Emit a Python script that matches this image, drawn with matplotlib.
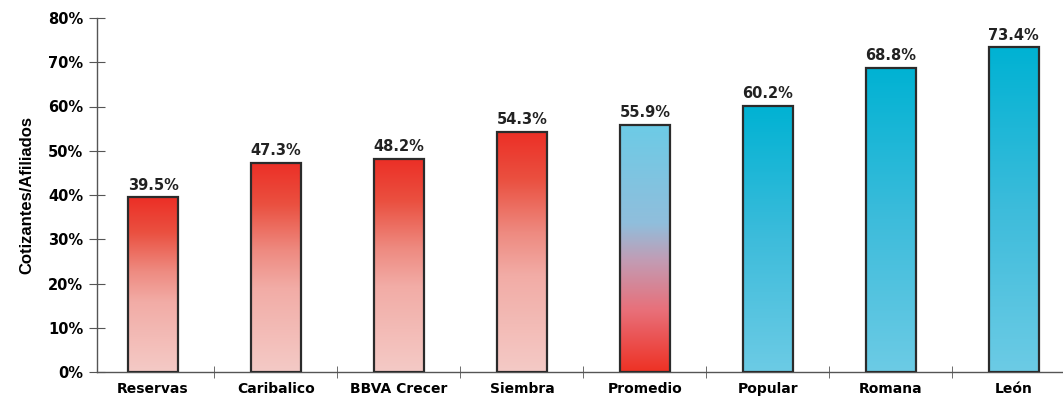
import numpy as np
import matplotlib.pyplot as plt
from matplotlib.colors import LinearSegmentedColormap

categories = ['Reservas', 'Caribalico', 'BBVA Crecer', 'Siembra', 'Promedio', 'Popular', 'Romana', 'León']
values = [39.5, 47.3, 48.2, 54.3, 55.9, 60.2, 68.8, 73.4]
groups = ['red', 'red', 'red', 'red', 'avg', 'blue', 'blue', 'blue']

# gradients, bottom -> top
cmaps = {
    'red': LinearSegmentedColormap.from_list('red', [(0, '#f4cac6'), (0.4, '#f2aca6'), (0.58, '#ee8a80'),
                                                     (0.8, '#ea5040'), (1, '#ec2f26')]),
    'avg': LinearSegmentedColormap.from_list('avg', [(0, '#ee3124'), (0.25, '#e8707a'), (0.45, '#c29cb4'),
                                                     (0.6, '#90bedc'), (1, '#6ccbe6')]),
    'blue': LinearSegmentedColormap.from_list('blue', ['#6ccbe5', '#3dbcdb', '#00b2d3']),
}

plt.rcParams['font.family'] = ['DejaVu Sans']

fig = plt.figure(figsize=(10.63, 4), dpi=100)
ax = fig.add_axes([0.0913, 0.07, 0.9087, 0.885])

x = np.arange(len(categories))
width = 0.41
bars = ax.bar(x, values, width=width, color='none', edgecolor='#2b2b2b', linewidth=1.6, zorder=3)

grad = np.linspace(0, 1, 256).reshape(-1, 1)
for bar, g in zip(bars, groups):
    x0, w, h = bar.get_x(), bar.get_width(), bar.get_height()
    im = ax.imshow(grad, cmap=cmaps[g], origin='lower', aspect='auto',
                   extent=[x0, x0 + w, 0, h], zorder=2)
    im.set_clip_path(bar)

for xi, v in zip(x, values):
    ax.text(xi, v + 1.0, f'{v:.1f}%', ha='center', va='bottom',
            fontsize=10.5, fontweight='bold', color='#222222')

ax.set_xlim(-0.455, 7.4)
ax.set_ylim(0, 80)
ax.set_yticks(np.arange(0, 81, 10))
ax.set_yticklabels([f'{t}%' for t in range(0, 81, 10)], fontsize=10.5, fontweight='bold')
ax.set_xticks(x)
ax.set_xticklabels(categories, fontsize=10, fontweight='bold')
ax.set_xticks(x[:-1] + 0.5, minor=True)
ax.tick_params(axis='x', which='major', length=0, pad=7)
ax.tick_params(axis='x', which='minor', length=8, direction='inout', color='#555555')
ax.tick_params(axis='y', length=12, direction='inout', color='#555555', pad=4)

for s in ['top', 'right']:
    ax.spines[s].set_visible(False)
for s in ['left', 'bottom']:
    ax.spines[s].set_color('#555555')
    ax.spines[s].set_linewidth(1.0)

ax.set_ylabel('Cotizantes/Afiliados', fontsize=12, fontweight='bold',
              family=['Liberation Sans', 'DejaVu Sans'], labelpad=10)

fig.savefig('out.png', dpi=100)
